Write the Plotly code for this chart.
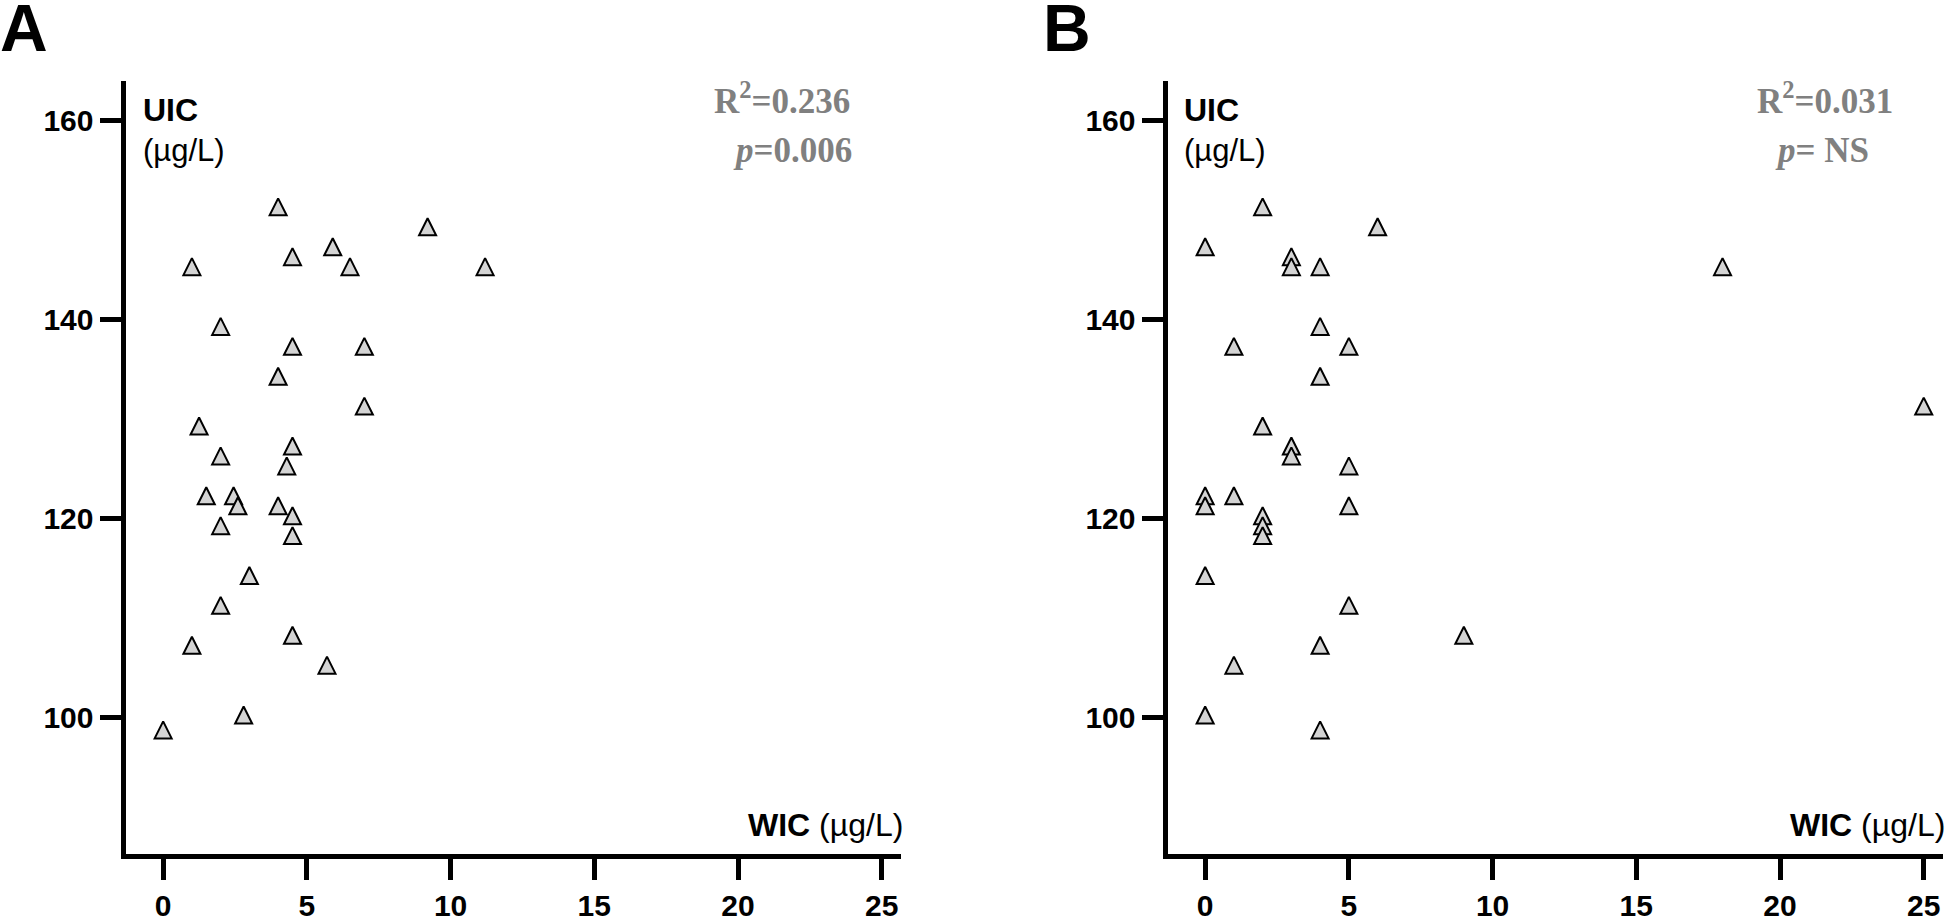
import plotly.graph_objects as go

# ---------------- data ----------------
wic_a = [4, 9.2, 5.9, 4.5, 1.0, 6.5, 11.2, 2.0, 4.5, 7.0, 4.0, 7.0, 1.25,
         4.5, 2.0, 4.3, 1.5, 2.45, 2.6, 4.0, 4.5, 2.0, 4.5, 3.0, 2.0, 4.5,
         1.0, 5.7, 2.8, 0]
uic_a = [151, 149, 147, 146, 145, 145, 145, 139, 137, 137, 134, 131, 129,
         127, 126, 125, 122, 122, 121, 121, 120, 119, 118, 114, 111, 108,
         107, 105, 100, 98.5]

wic_b = [2, 6, 0, 3, 3, 4, 18, 4, 1, 5, 4, 2, 25,
         3, 3, 5, 0, 0, 1, 2, 2, 2, 5, 0, 5, 9, 4, 1, 0, 4]
uic_b = [151, 149, 147, 146, 145, 145, 145, 139, 137, 137, 134, 129, 131,
         127, 126, 125, 122, 121, 122, 120, 119, 118, 121, 114, 111, 108,
         107, 105, 100, 98.5]

x_ticks = [0, 5, 10, 15, 20, 25]
y_ticks = [100, 120, 140, 160]
stats_a = ["R<sup>2</sup>=0.236", "<i>p</i>=0.006"]
stats_b = ["R<sup>2</sup>=0.031", "<i>p</i>= NS"]
panel_labels = ["A", "B"]

W, H = 1946, 922
SANS = "Liberation Sans, Arial, sans-serif"
SERIF = "Liberation Serif, Times New Roman, serif"
GRAY = "#808080"

def px_x(p):
    return p / W

def px_y(p):
    return 1 - p / H

MSIZE = 17
marker = dict(symbol="arrow-down", angle=180, standoff=MSIZE * 2 / 3,
              size=MSIZE, color="#d4d4d4", line=dict(color="black", width=2))

fig = go.Figure()
fig.add_trace(go.Scatter(x=wic_a, y=uic_a, mode="markers", marker=marker,
                         xaxis="x", yaxis="y", showlegend=False, cliponaxis=False))
fig.add_trace(go.Scatter(x=wic_b, y=uic_b, mode="markers", marker=marker,
                         xaxis="x2", yaxis="y2", showlegend=False, cliponaxis=False))

xrange = [-1.31, 25.67]
yrange = [86.33, 163.88]
ydom = [px_y(860.5), px_y(82)]

axis_common = dict(showline=True, linewidth=5, linecolor="black", ticks="outside",
                   ticklen=21, tickwidth=5, tickcolor="black", showgrid=False,
                   zeroline=False, tickfont=dict(family=SANS, size=30, color="black", weight="bold"))

fig.update_layout(
    width=W, height=H,
    margin=dict(l=0, r=0, t=0, b=0),
    paper_bgcolor="white", plot_bgcolor="white",
    xaxis=dict(domain=[px_x(125.5), px_x(901)], range=xrange, tickvals=x_ticks,
               anchor="y", **axis_common),
    yaxis=dict(domain=ydom, range=yrange, tickvals=y_ticks, anchor="x", **axis_common),
    xaxis2=dict(domain=[px_x(1167.5), px_x(1943)], range=xrange, tickvals=x_ticks,
                anchor="y2", **axis_common),
    yaxis2=dict(domain=ydom, range=yrange, tickvals=y_ticks, anchor="x2", **axis_common),
)

ann = []
def add(text, x, y, xanchor, size, family=SANS, color="black", weight="normal"):
    ann.append(dict(text=text, x=px_x(x), y=px_y(y), xref="paper", yref="paper",
                    xanchor=xanchor, yanchor="middle", showarrow=False,
                    font=dict(family=family, size=size, color=color, weight=weight)))

# panel letters
add(panel_labels[0], -2, 28, "left", 66, weight="bold")
add(panel_labels[1], 1041, 28, "left", 66, weight="bold")

for x0 in (141, 1182):
    add("<b>UIC</b>", x0, 111, "left", 32)
    add("(µg/L)", x0, 152, "left", 31)

add("<b>WIC</b> (µg/L)", 905, 831, "right", 32)
add("<b>WIC</b> (µg/L)", 1947, 831, "right", 32)

add(stats_a[0], 852, 99, "right", 35, family=SERIF, color=GRAY, weight="bold")
add(stats_a[1], 854, 152, "right", 35, family=SERIF, color=GRAY, weight="bold")
add(stats_b[0], 1825, 99, "center", 35, family=SERIF, color=GRAY, weight="bold")
add(stats_b[1], 1822, 152, "center", 35, family=SERIF, color=GRAY, weight="bold")

fig.update_layout(annotations=ann)
fig.write_html("out.html", config={"displayModeBar": False},
               post_script="document.body.style.margin='0';document.body.style.overflow='hidden';")
